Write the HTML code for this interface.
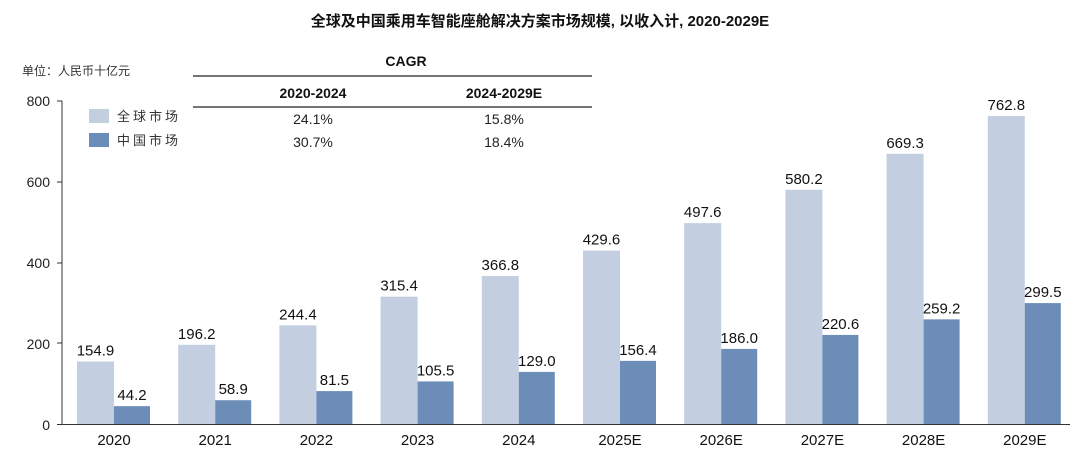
<!DOCTYPE html>
<html><head><meta charset="utf-8"><style>
body{margin:0;background:#fff;}
svg text{font-family:"Liberation Sans","Noto Sans CJK SC",sans-serif;}
</style></head><body>
<svg width="1080" height="457" viewBox="0 0 1080 457" xmlns="http://www.w3.org/2000/svg">
<text x="540" y="26" text-anchor="middle" font-size="15" font-weight="bold" fill="#111">全球及中国乘用车智能座舱解决方案市场规模, 以收入计, 2020-2029E</text>
<text x="22" y="75" font-size="12" fill="#333" font-family="'Noto Serif CJK SC',serif">单位：人民币十亿元</text>
<text x="406" y="66" text-anchor="middle" font-size="14" font-weight="bold" fill="#111">CAGR</text>
<line x1="193" y1="76" x2="592" y2="76" stroke="#222" stroke-width="1.3"/>
<text x="313" y="98" text-anchor="middle" font-size="14" font-weight="bold" fill="#111">2020-2024</text>
<text x="504" y="98" text-anchor="middle" font-size="14" font-weight="bold" fill="#111">2024-2029E</text>
<line x1="193" y1="107" x2="592" y2="107" stroke="#222" stroke-width="1.3"/>
<text x="313" y="124" text-anchor="middle" font-size="14" fill="#222">24.1%</text>
<text x="504" y="124" text-anchor="middle" font-size="14" fill="#222">15.8%</text>
<text x="313" y="147" text-anchor="middle" font-size="14" fill="#222">30.7%</text>
<text x="504" y="147" text-anchor="middle" font-size="14" fill="#222">18.4%</text>
<rect x="89" y="109" width="20" height="14" fill="#c3cee1"/>
<rect x="89" y="133" width="20" height="14" fill="#6d8db9"/>
<text x="117" y="121" font-size="13" fill="#333" font-family="'Noto Serif CJK SC',serif" letter-spacing="3">全球市场</text>
<text x="117" y="145" font-size="13" fill="#333" font-family="'Noto Serif CJK SC',serif" letter-spacing="3">中国市场</text>
<g font-size="14" fill="#222" text-anchor="end">
<text x="50" y="106">800</text><text x="50" y="187">600</text><text x="50" y="268">400</text><text x="50" y="349">200</text><text x="50" y="430">0</text>
</g>
<g stroke="#333" stroke-width="1">
<line x1="62" y1="101" x2="62" y2="424.5"/>
<line x1="57" y1="101" x2="62" y2="101"/><line x1="57" y1="182" x2="62" y2="182"/><line x1="57" y1="263" x2="62" y2="263"/><line x1="57" y1="343" x2="62" y2="343"/>
<line x1="57" y1="424.5" x2="1070" y2="424.5"/>
</g>
<g id="bars"></g>
</svg>
<script>
var g=[154.9,196.2,244.4,315.4,366.8,429.6,497.6,580.2,669.3,762.8],c=[44.2,58.9,81.5,105.5,129.0,156.4,186.0,220.6,259.2,299.5],
l=["2020","2021","2022","2023","2024","2025E","2026E","2027E","2028E","2029E"],s="";
function y(v){return 424-v*0.4037;}
for(var i=0;i<10;i++){var x=77+101.2*i;
s+='<rect x="'+x+'" y="'+y(g[i])+'" width="37" height="'+(424-y(g[i]))+'" fill="#c3cee1"/>';
s+='<rect x="'+(x+37)+'" y="'+y(c[i])+'" width="36" height="'+(424-y(c[i]))+'" fill="#6d8db9"/>';
s+='<text x="'+(x+18.5)+'" y="'+(y(g[i])-6)+'" text-anchor="middle" font-size="15" fill="#111">'+g[i].toFixed(1)+'</text>';
s+='<text x="'+(x+55)+'" y="'+(y(c[i])-6)+'" text-anchor="middle" font-size="15" fill="#111">'+c[i].toFixed(1)+'</text>';
s+='<text x="'+(x+37)+'" y="445" text-anchor="middle" font-size="15" fill="#111">'+l[i]+'</text>';}
document.getElementById("bars").innerHTML=s;
</script>
</body></html>
